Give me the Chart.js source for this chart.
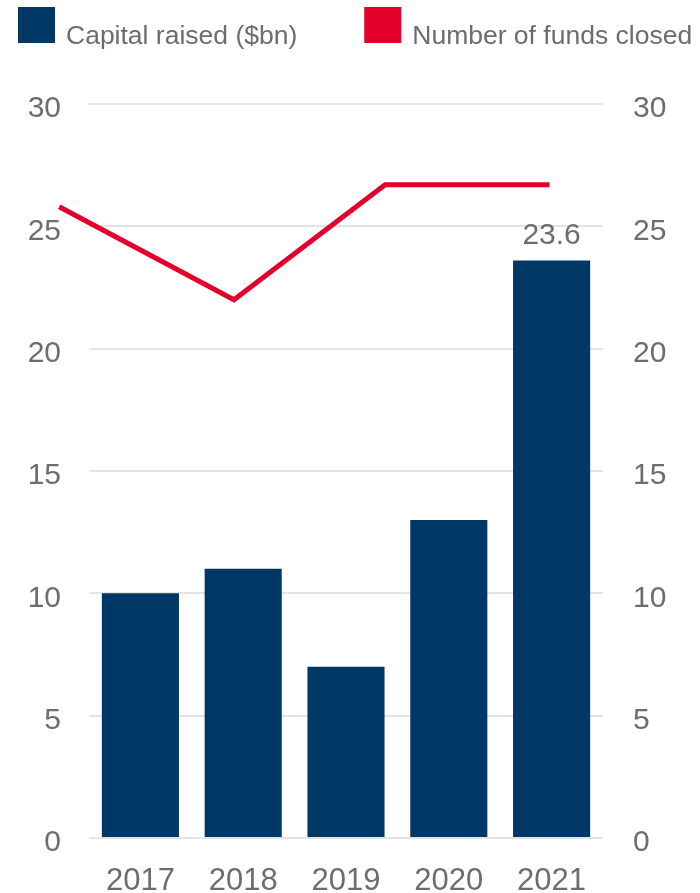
<!DOCTYPE html>
<html>
<head>
<meta charset="utf-8">
<script src="https://cdn.jsdelivr.net/npm/chart.js@4.4.1/dist/chart.umd.min.js"></script>
<style>
  html, body { margin: 0; padding: 0; background: #fff; }
  #box { width: 700px; height: 893px; }
</style>
</head>
<body>
<div id="box"><canvas id="myChart" width="700" height="893" style="width:700px;height:893px"></canvas></div>
<script>
// capital raised per year (bars, left axis)
const years = ['2017', '2018', '2019', '2020', '2021'];
const capitalRaised = [10, 11, 7, 13, 23.6];

// funds closed (line, right axis) - positions along the year scale
const fundsPos = [2016.21, 2017.91, 2019.38, 2020.98];
const fundsClosed = [25.8, 22, 26.7, 26.7];

const yMin = 0, yMax = 30, yStep = 5;

const NAVY = '#003865';
const RED = '#e4002b';
const GREY = '#6d6d6d';
const FONT = '"Liberation Sans", Arial, sans-serif';

// legend boxes + labels across the top
const topLegend = {
    id: 'topLegend',
    afterDraw(chart) {
        const ctx = chart.ctx;
        ctx.save();
        ctx.font = '26.5px ' + FONT;
        ctx.textBaseline = 'alphabetic';
        ctx.textAlign = 'left';
        let x = 18;
        chart.data.datasets.forEach(function(ds) {
            ctx.fillStyle = ds.legendColor;
            ctx.fillRect(x, 7, 37, 36);
            ctx.fillStyle = GREY;
            ctx.fillText(ds.label, x + 48, 44);
            x += 48 + ctx.measureText(ds.label).width + 67;
        });
        ctx.restore();
    }
};

// value above the last bar
const lastValue = {
    id: 'lastValue',
    afterDatasetsDraw(chart) {
        const meta = chart.getDatasetMeta(0);
        const i = capitalRaised.length - 1;
        const bar = meta.data[i];
        const ctx = chart.ctx;
        ctx.save();
        ctx.font = '30px ' + FONT;
        ctx.fillStyle = GREY;
        ctx.textAlign = 'center';
        ctx.textBaseline = 'alphabetic';
        ctx.fillText(String(capitalRaised[i]), bar.x, bar.y - 17);
        ctx.restore();
    }
};

function renderChart() {
    var ctx = document.getElementById('myChart').getContext('2d');
    var myChart = new Chart(ctx, {
        type: 'bar',
        data: {
            labels: years,
            datasets: [{
                type: 'bar',
                label: 'Capital raised ($bn)',
                data: capitalRaised,
                backgroundColor: NAVY,
                legendColor: NAVY,
                borderWidth: 0,
                grouped: false,
                barPercentage: 0.75,
                categoryPercentage: 1,
                xAxisID: 'x',
                yAxisID: 'y',
                order: 2
            }, {
                type: 'line',
                label: 'Number of funds closed',
                data: fundsPos.map(function(p, i) { return { x: p, y: fundsClosed[i] }; }),
                borderColor: RED,
                legendColor: RED,
                borderWidth: 5,
                pointRadius: 0,
                tension: 0,
                borderJoinStyle: 'miter',
                borderCapStyle: 'butt',
                clip: false,
                xAxisID: 'xl',
                yAxisID: 'y2',
                order: 1
            }]
        },
        options: {
            responsive: false,
            animation: false,
            layout: { padding: { top: 104, left: 0, right: 0, bottom: 0 } },
            plugins: {
                legend: { display: false },
                tooltip: { enabled: false }
            },
            scales: {
                x: {
                    type: 'category',
                    offset: true,
                    grid: { display: false },
                    border: { display: false },
                    ticks: { color: GREY, font: { family: FONT, size: 31 }, padding: 17 },
                    afterFit: function(s) { s.height = 55; }
                },
                // invisible year scale that the line is placed on
                xl: {
                    type: 'linear',
                    position: 'bottom',
                    offset: false,
                    min: 2016.5,
                    max: 2021.5,
                    grid: { display: false, drawTicks: false, offset: false },
                    border: { display: false },
                    ticks: { display: false },
                    afterFit: function(s) { s.height = 0; }
                },
                y: {
                    position: 'left',
                    min: yMin, max: yMax,
                    grid: { color: '#e4e4e4', lineWidth: 2, drawTicks: false },
                    border: { display: false },
                    ticks: { stepSize: yStep, color: GREY, font: { family: FONT, size: 30 }, padding: 28, labelOffset: 5 },
                    afterFit: function(s) { s.width = 89; }
                },
                y2: {
                    position: 'right',
                    min: yMin, max: yMax,
                    grid: { display: false, drawTicks: false },
                    border: { display: false },
                    ticks: { stepSize: yStep, color: GREY, font: { family: FONT, size: 30 }, padding: 30, labelOffset: 5 },
                    afterFit: function(s) { s.width = 97; }
                }
            }
        },
        plugins: [topLegend, lastValue]
    });
    return myChart;
}

renderChart();
</script>
</body>
</html>
